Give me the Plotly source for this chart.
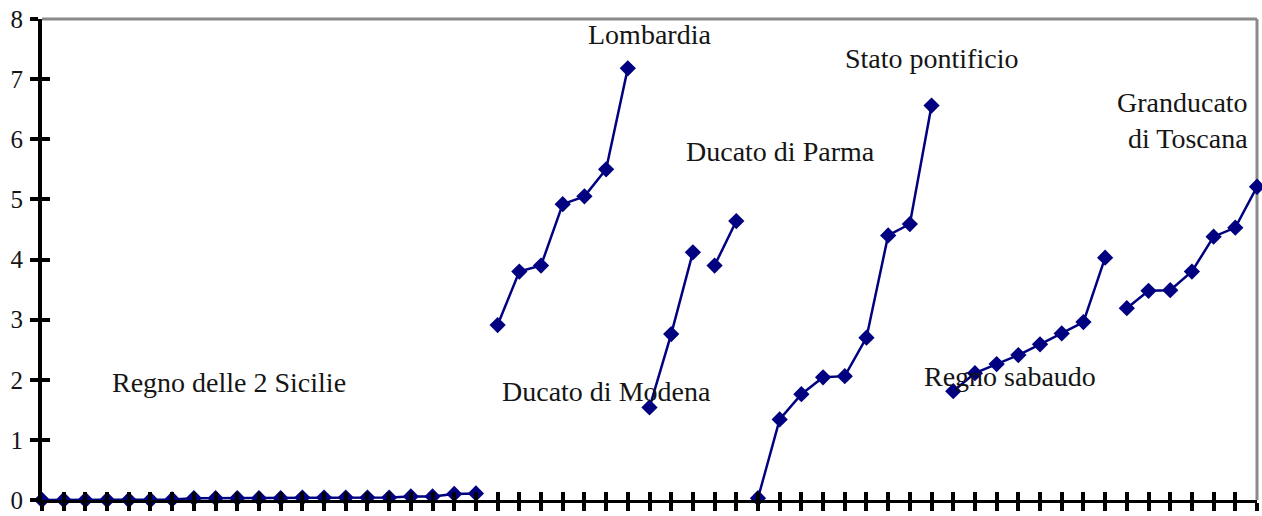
import plotly.graph_objects as go

# Region names and values
regions = [
    "Regno delle 2 Sicilie",
    "Lombardia",
    "Ducato di Modena",
    "Ducato di Parma",
    "Stato pontificio",
    "Regno sabaudo",
    "Granducato di Toscana",
]
sicilie = [0, 0, 0, 0, 0, 0, 0.01, 0.03, 0.03, 0.03, 0.03, 0.03, 0.04, 0.04,
           0.04, 0.04, 0.04, 0.06, 0.06, 0.1, 0.11]
lombardia = [2.91, 3.80, 3.90, 4.92, 5.05, 5.50, 7.18]
modena = [1.54, 2.76, 4.12]
parma = [3.90, 4.64]
pontificio = [0.03, 1.34, 1.76, 2.04, 2.06, 2.70, 4.40, 4.59, 6.56]
sabaudo = [1.81, 2.11, 2.26, 2.41, 2.59, 2.77, 2.96, 4.03]
toscana = [3.19, 3.48, 3.49, 3.80, 4.38, 4.53, 5.21]
series = [sicilie, lombardia, modena, parma, pontificio, sabaudo, toscana]
y_ticks = [0, 1, 2, 3, 4, 5, 6, 7, 8]

NAVY = "#000080"
FONT = "Liberation Serif"

fig = go.Figure()
start = 0
for name, vals in zip(regions, series):
    xs = list(range(start, start + len(vals)))
    fig.add_trace(go.Scatter(
        x=xs, y=vals, mode="lines+markers", name=name,
        line=dict(color=NAVY, width=2.5),
        marker=dict(symbol="diamond", size=12.5, color=NAVY),
        cliponaxis=False, showlegend=False,
    ))
    start += len(vals)
n_points = start

# dummy trace for inside-tick overlay axes
fig.add_trace(go.Scatter(x=[None], y=[None], xaxis="x2", yaxis="y2",
                         showlegend=False, hoverinfo="skip"))

labels = [
    ("Regno delle 2 Sicilie", 8.62, 1.95, "center"),
    ("Lombardia", 28.0, 7.74, "center"),
    ("Ducato di Parma", 34.06, 5.79, "center"),
    ("Ducato di Modena", 26.0, 1.81, "center"),
    ("Stato pontificio", 40.98, 7.34, "center"),
    ("Regno sabaudo", 44.62, 2.06, "center"),
    ("Granducato<br>di Toscana", 55.68, 6.31, "right"),
]
for text, x, y, anchor in labels:
    fig.add_annotation(x=x, y=y, text=text, showarrow=False, xanchor=anchor,
                       yanchor="middle", align="right" if anchor == "right" else "center",
                       font=dict(family=FONT, size=28, color="#151515"))

xr = [0, n_points - 1]
yr = [0, 8]
common_x = dict(range=xr, dtick=1, tick0=0, showticklabels=False, showgrid=False,
                zeroline=False, tickcolor="black", tickwidth=4, ticklen=8,
                automargin=False)
common_y = dict(range=yr, tickvals=y_ticks, showgrid=False, zeroline=False,
                tickcolor="black", tickwidth=3.5, ticklen=8, automargin=False)

fig.update_layout(
    width=1262, height=516,
    margin=dict(l=42, r=5, t=19, b=16),
    paper_bgcolor="white", plot_bgcolor="white",
    xaxis=dict(**common_x, ticks="outside", showline=True, linecolor="black",
               linewidth=3),
    yaxis=dict(**common_y, ticks="outside", showline=True, linecolor="black",
               linewidth=4, ticklabelstandoff=2,
               tickfont=dict(family=FONT, size=25, color="#151515")),
    xaxis2=dict(**common_x, ticks="inside", overlaying="x", anchor="y2",
                showline=False),
    yaxis2=dict(**common_y, ticks="inside", overlaying="y", anchor="x2",
                showline=False, showticklabels=False),
    shapes=[
        dict(type="line", xref="paper", yref="paper", x0=0, x1=1, y0=1, y1=1,
             line=dict(color="#8a8a8a", width=3), layer="below"),
        dict(type="line", xref="paper", yref="paper", x0=1, x1=1, y0=0, y1=1,
             line=dict(color="#8a8a8a", width=3), layer="below"),
    ],
)

fig.write_html("out.html", config={"displayModeBar": False},
               post_script="document.body.style.margin='0';"
                           "document.body.style.overflow='hidden';")
